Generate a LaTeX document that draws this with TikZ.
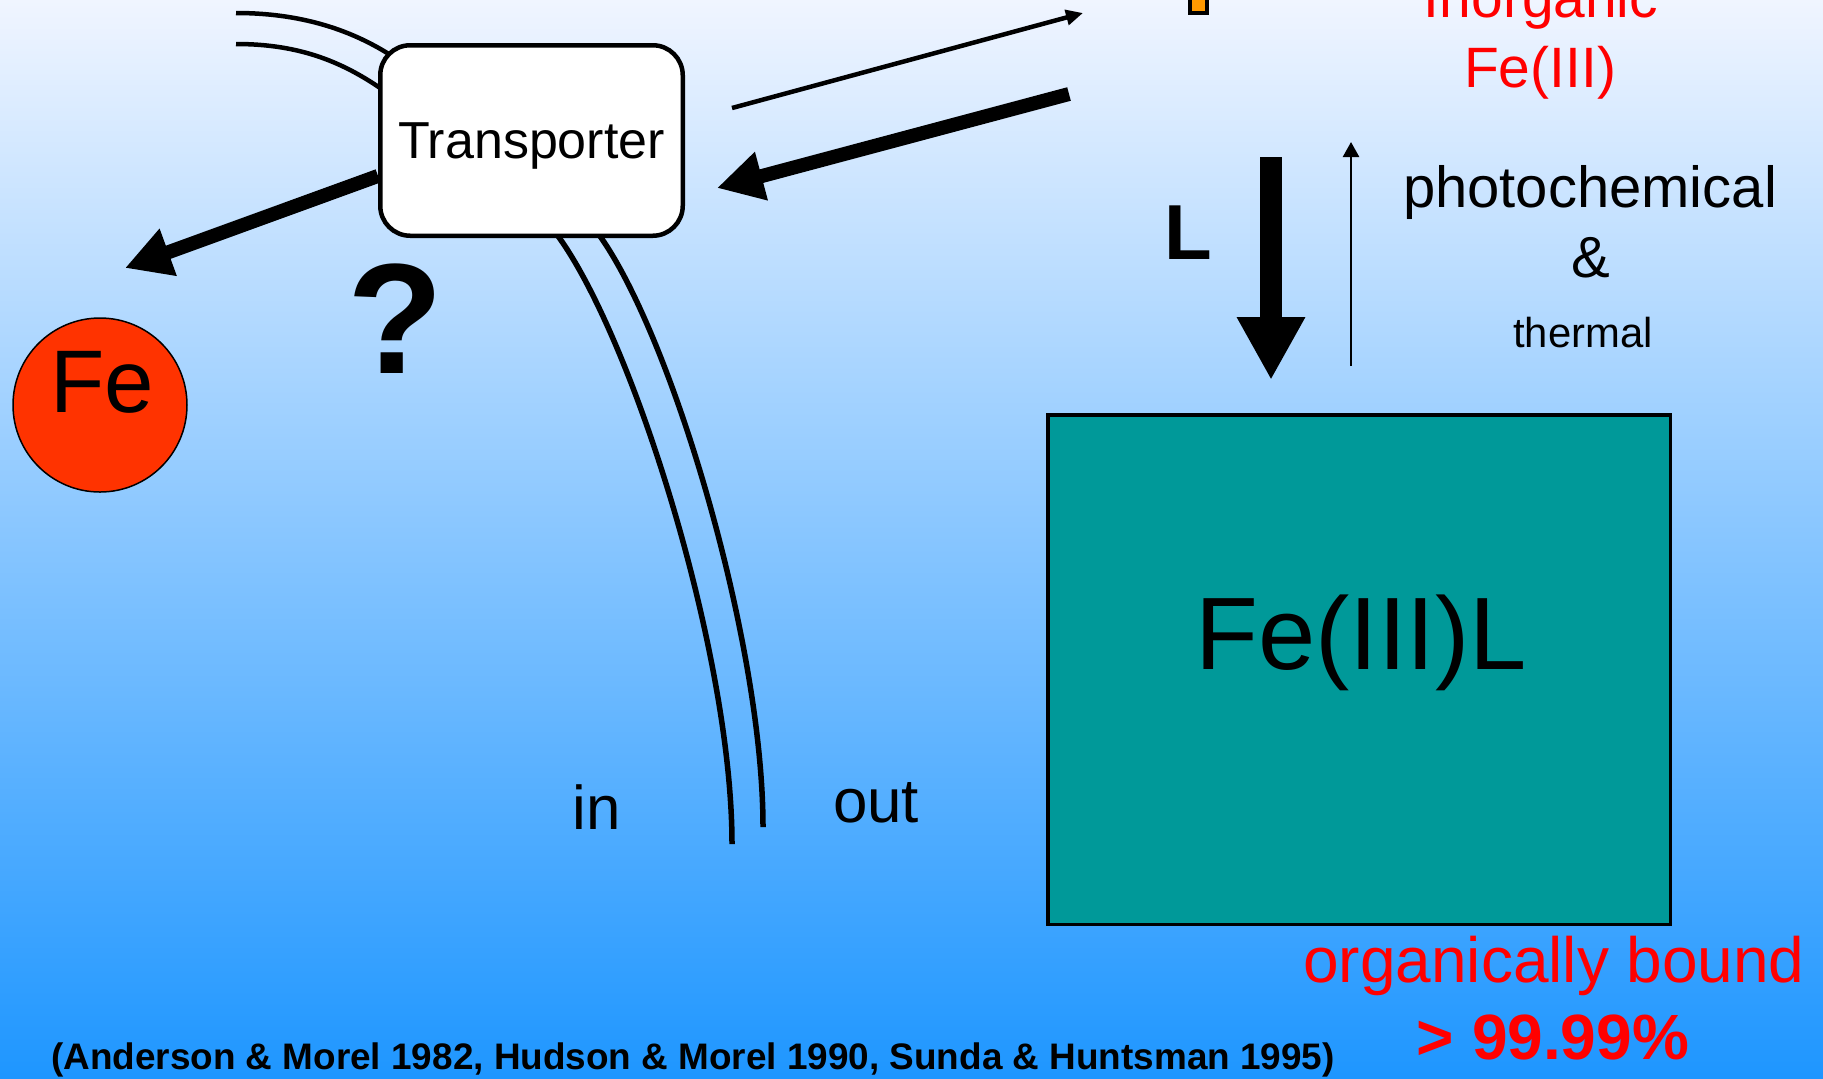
\documentclass[tikz,border=0pt]{standalone}
\usepackage{fontspec}
\setmainfont{Liberation Sans}
\usetikzlibrary{arrows.meta}

\definecolor{skytop}{RGB}{240,245,255}
\definecolor{skymid}{RGB}{158,196,255}
\definecolor{skybot}{RGB}{30,150,255}
\definecolor{ironred}{RGB}{255,51,0}
\definecolor{ligteal}{RGB}{0,153,153}
\definecolor{tagorange}{RGB}{255,153,0}

\newcommand{\fsz}[1]{\fontsize{#1}{#1}\selectfont}

\begin{document}
\begin{tikzpicture}[x=0.1mm,y=-0.1mm,
  txt/.style={anchor=base,inner sep=0pt},
  wall/.style={line width=0.45mm},
  bigarrow/.style={line width=1.4mm,-{Triangle[length=4.6mm,width=4.7mm]}},
  thinarrow/.style={line width=0.45mm,-{Triangle[length=1.7mm,width=1.5mm]}}]

\shade[top color=skytop,middle color=skymid,bottom color=skybot] (0,0) rectangle (1823,1078);
\useasboundingbox (0,0) rectangle (1823,1078);

% cell wall
\draw[wall] (236,13) .. controls (305,13) and (360,32) .. (405,65);
\draw[wall] (236,44) .. controls (300,44) and (345,62) .. (390,95);
\draw[wall,line width=0.55mm] (555,232) .. controls (630,330) and (732,650) .. (732,844);
\draw[wall,line width=0.55mm] (597,232) .. controls (670,330) and (763,640) .. (763,827);

\node[draw,fill=white,rounded corners=3mm,line width=0.45mm,minimum width=30.25mm,
  minimum height=19.05mm,text depth=0pt,font=\fsz{14.8}] (tr) at (531.5,140.5) {Transporter};

\node[circle,draw,fill=ironred,line width=0.15mm,minimum size=17.4mm,inner sep=0pt] (fe) at (100,405) {};
\node[txt,font=\fsz{25.3}] (fetxt) at (102,412) {Fe};

\coordinate (fetip) at (125,268);
\coordinate (backtail) at (1069,94);
\coordinate (backtip) at (717,188);
\coordinate (outtail) at (732,108);
\coordinate (outtip) at (1083,13);

\draw[bigarrow] (tr.193) -- (fetip);
\draw[bigarrow] (backtail) -- (backtip);
\draw[thinarrow] (outtail) -- (outtip);

\node[txt,font=\bfseries\fsz{44.7}] (qmark) at (395,373) {?};
\node[txt,font=\fsz{17.6}] (inside) at (597,829) {in};
\node[txt,font=\fsz{17.6}] (outside) at (876,822) {out};

% inorganic pool
\draw[line width=0.35mm,fill=tagorange] (1190,-10) rectangle (1207,13);
\node[txt,red,font=\fsz{16.2}] (inorg) at (1541,17) {Inorganic};
\node[txt,red,font=\fsz{16.2}] (fe3) at (1540,87) {Fe(III)};

\coordinate (ltop) at (1271,157);
\coordinate (lbot) at (1271,380);
\coordinate (ubot) at (1351,366);
\coordinate (utop) at (1351,142);
\draw[line width=2.2mm,-{Triangle[length=6.3mm,width=6.4mm]}] (ltop) -- (lbot);
\draw[line width=0.25mm,-{Triangle[length=1.5mm,width=1.6mm]}] (ubot) -- (utop);
\node[txt,font=\bfseries\fsz{22.2}] (lig) at (1188,259) {L};
\node[txt,font=\fsz{16.5}] (photo) at (1590,207) {photochemical};
\node[txt,font=\fsz{16.5}] (amp) at (1591,277) {\&};
\node[txt,font=\fsz{11.9}] (therm) at (1583,347) {thermal};

% organic complex
\node[draw,fill=ligteal,line width=0.35mm,minimum width=62.25mm,minimum height=50.95mm] (cplx) at (1359,669.5) {};
\node[txt,font=\fsz{29.3}] (cplxtxt) at (1361,669) {Fe(III)L};
\node[txt,red,font=\fsz{18.2}] (orgb) at (1554,982) {organically bound};
\node[txt,red,font=\bfseries\fsz{18.2}] (pct) at (1553,1059) {> 99.99\%};

\node[txt,font=\bfseries\fsz{10.5}] (cite) at (693,1069) {(Anderson \& Morel 1982, Hudson \& Morel 1990, Sunda \& Huntsman 1995)};
\end{tikzpicture}
\end{document}
